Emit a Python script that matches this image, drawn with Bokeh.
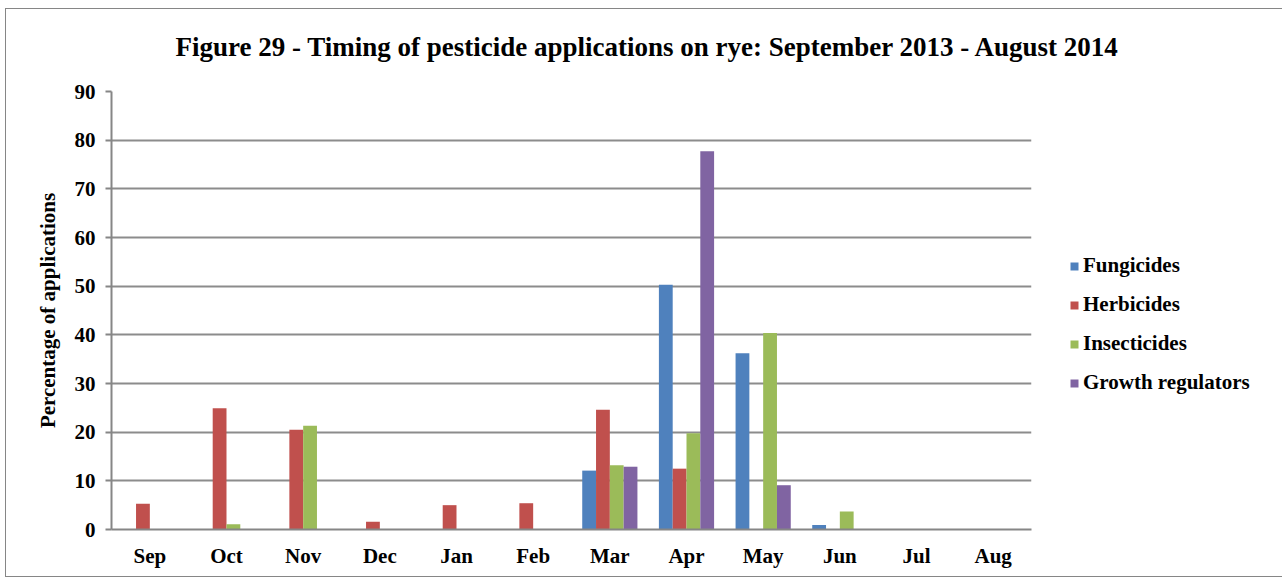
from bokeh.plotting import figure
from bokeh.models import ColumnDataSource, Legend, LegendItem, FactorRange, SingleIntervalTicker, Title
from bokeh.transform import dodge
from bokeh.embed import file_html
from bokeh.resources import INLINE

months = ["Sep", "Oct", "Nov", "Dec", "Jan", "Feb", "Mar", "Apr", "May", "Jun", "Jul", "Aug"]
fungicides = [0, 0, 0, 0, 0, 0, 12.1, 50.3, 36.2, 0.9, 0, 0]
herbicides = [5.3, 24.9, 20.5, 1.6, 5.0, 5.4, 24.6, 12.5, 0, 0, 0, 0]
insecticides = [0, 1.1, 21.3, 0, 0, 0, 13.2, 19.8, 40.4, 3.7, 0, 0]
growth_regulators = [0, 0, 0, 0, 0, 0, 12.9, 77.7, 9.1, 0, 0, 0]
title_text = "Figure 29 - Timing of pesticide applications on rye: September 2013 - August 2014"

series_names = ["Fungicides", "Herbicides", "Insecticides", "Growth regulators"]
series_keys = ["fung", "herb", "ins", "gr"]
colors = ["#4F81BD", "#C0504D", "#9BBB59", "#8064A2"]

src = ColumnDataSource(dict(month=months, fung=fungicides, herb=herbicides,
                            ins=insecticides, gr=growth_regulators))

FONT = "Liberation Serif"

p = figure(x_range=FactorRange(*months), y_range=(0, 90),
           frame_width=920, frame_height=438,
           min_border_left=105, min_border_right=246, min_border_top=80, min_border_bottom=47,
           output_backend="svg", toolbar_location=None)
p.styles = {"border": "1.5px solid #868686", "margin-left": "5px", "margin-top": "8px"}

offsets = [-0.27, -0.09, 0.09, 0.27]
items = []
for key, name, col, off in zip(series_keys, series_names, colors, offsets):
    r = p.vbar(x=dodge("month", off, range=p.x_range), top=key, width=0.18,
               source=src, fill_color=col, line_color=None)
    items.append(LegendItem(label=name, renderers=[r]))

# spacer panel next to the frame, then the real title above it
p.add_layout(Title(text=" ", text_font_size="1px", standoff=6), "above")
p.add_layout(Title(text=title_text, text_font=FONT, text_font_size="27px",
                   text_font_style="bold", text_color="black", align="left",
                   offset=64, standoff=41), "above")

p.outline_line_color = None
p.background_fill_color = "white"
p.border_fill_color = "white"

p.xgrid.grid_line_color = None
p.ygrid.grid_line_color = "#8c8c8c"
p.ygrid.grid_line_width = 2

p.yaxis.ticker = SingleIntervalTicker(interval=10)
for ax in (p.xaxis, p.yaxis):
    ax.axis_line_color = "#868686"
    ax.axis_line_width = 2
    ax.major_label_text_font = FONT
    ax.major_label_text_font_size = "21px"
    ax.major_label_text_font_style = "bold"
    ax.major_label_text_color = "black"
    ax.minor_tick_line_color = None
p.yaxis.major_tick_line_color = "#868686"
p.yaxis.major_tick_line_width = 2
p.yaxis.major_tick_in = 0
p.yaxis.major_tick_out = 6
p.yaxis.major_label_standoff = 10
p.xaxis.major_tick_line_color = None
p.xaxis.major_label_standoff = 8
p.yaxis.axis_label = "Percentage of applications"
p.yaxis.axis_label_text_font = FONT
p.yaxis.axis_label_text_font_size = "21px"
p.yaxis.axis_label_text_font_style = "bold"
p.yaxis.axis_label_text_color = "black"
p.yaxis.axis_label_standoff = 12

legend = Legend(items=items, location=(38, 134), orientation="vertical")
legend.border_line_color = None
legend.background_fill_alpha = 0
legend.padding = 0
legend.margin = 0
legend.glyph_width = 10
legend.glyph_height = 10
legend.label_height = 20
legend.spacing = 14
legend.label_standoff = 4
legend.label_text_font = FONT
legend.label_text_font_size = "21px"
legend.label_text_font_style = "bold"
legend.label_text_color = "black"
p.add_layout(legend, "right")

open("out.html", "w").write(file_html(p, INLINE))
